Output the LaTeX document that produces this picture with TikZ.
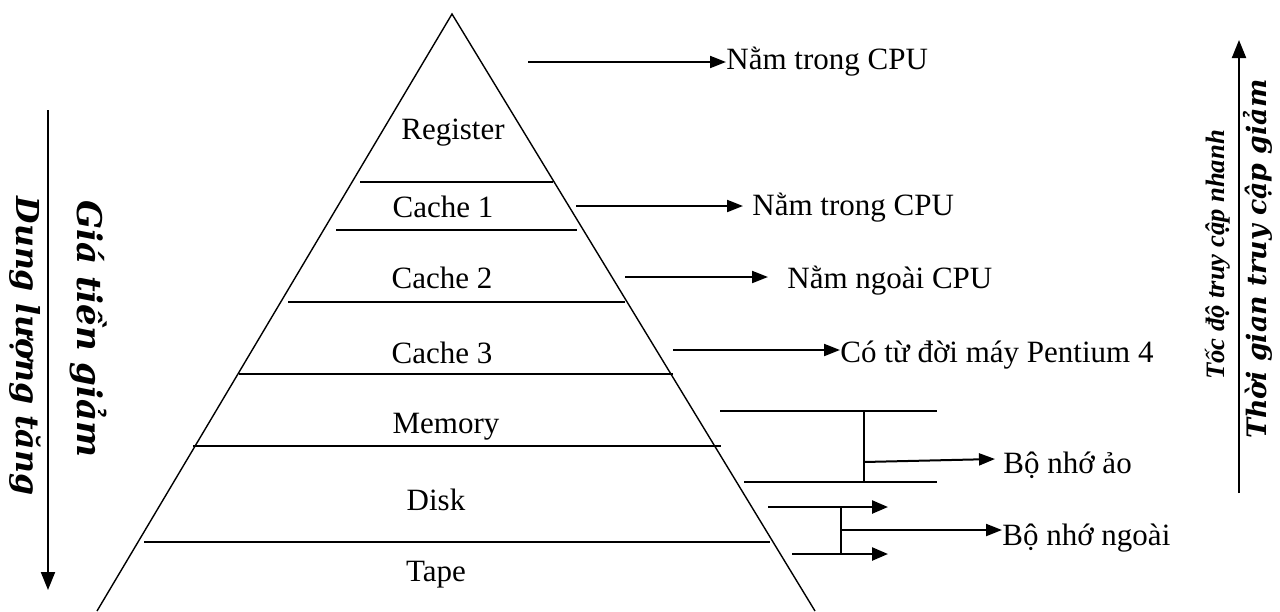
\documentclass[tikz,border=0pt]{standalone}
\usepackage{fontspec}
\setmainfont{Liberation Serif}
\newfontfamily\bkfont{DejaVu Serif}
\usetikzlibrary{arrows.meta}
\begin{document}
\begin{tikzpicture}[x=0.5pt,y=-0.5pt,
  edge/.style={line width=0.7pt},
  arr/.style={line width=1pt,-{Triangle[length=8pt,width=6pt]}},
  thick arr/.style={line width=1.2pt,-{Triangle[length=8pt,width=6.5pt]}},
  lvl/.style={font=\fontsize{15.5}{18}\selectfont, inner sep=0pt},
  lbl/.style={font=\fontsize{15.5}{18}\selectfont, inner sep=0pt, anchor=base west},
  sidebig/.style={font=\bkfont\bfseries\itshape\fontsize{17}{20}\selectfont, inner sep=0pt},
  sidesmall/.style={font=\bkfont\bfseries\itshape\fontsize{13.4}{16}\selectfont, inner sep=0pt},
  sidetimes/.style={font=\bfseries\itshape\fontsize{13.3}{16}\selectfont, inner sep=0pt}]
\useasboundingbox (0,0) rectangle (1280,611);

% pyramid
\coordinate (apex) at (452,14);
\coordinate (bl) at (97,611);
\coordinate (br) at (815,611);
\draw[edge] (bl) -- (apex) -- (br);
\draw[edge] (360,182) -- (553,182);
\draw[edge] (336,230) -- (577,230);
\draw[edge] (288,302) -- (625,302);
\draw[edge] (239,374) -- (673,374);
\draw[edge] (193,446) -- (721,446);
\draw[edge] (144,542) -- (770,542);

% level names
\node[lvl] (reg) at (453,133) {Register};
\node[lvl] (c1) at (443,207) {Cache 1};
\node[lvl] (c2) at (442,278) {Cache 2};
\node[lvl] (c3) at (442,353) {Cache 3};
\node[lvl] (mem) at (446,427) {Memory};
\node[lvl] (disk) at (436,500) {Disk};
\node[lvl] (tape) at (436,575) {Tape};

% right annotations
\node[lbl] (t1) at (726,69.5) {Nằm trong CPU};
\coordinate (a1) at (528,62);
\draw[arr] (a1) -- (a1 -| t1.west);

\node[lbl] (t2) at (752,215) {Nằm trong CPU};
\coordinate (a2) at (576,206);
\draw[arr] (a2) -- (743,206);

\node[lbl] (t3) at (787,288) {Nằm ngoài CPU};
\coordinate (a3) at (625,277);
\draw[arr] (a3) -- (768,277);

\node[lbl] (t4) at (840,362) {Có từ đời máy Pentium 4};
\coordinate (a4) at (673,350);
\draw[arr] (a4) -- (a4 -| t4.west);

% virtual memory bracket
\coordinate (vm1) at (720,411);
\coordinate (vm2) at (937,411);
\coordinate (vm3) at (744,482);
\coordinate (vm4) at (937,482);
\coordinate (vmt) at (864,411);
\coordinate (vmb) at (864,482);
\coordinate (vmm) at (864,462);
\draw[edge] (vm1) -- (vm2);
\draw[edge] (vm3) -- (vm4);
\draw[edge] (vmt) -- (vmb);
\node[lbl] (t5) at (1003,473) {Bộ nhớ ảo};
\coordinate (vme) at (995,459);
\draw[arr] (vmm) -- (vme);

% external memory bracket
\coordinate (d1) at (768,507);
\coordinate (d1e) at (888,507);
\coordinate (d2) at (792,554);
\coordinate (d2e) at (888,554);
\coordinate (dt) at (841,507);
\coordinate (db) at (841,554);
\coordinate (dm) at (841,530);
\draw[thick arr] (d1) -- (d1e);
\draw[thick arr] (d2) -- (d2e);
\draw[line width=1pt] (dt) -- (db);
\node[lbl] (t6) at (1002,545) {Bộ nhớ ngoài};
\draw[arr] (dm) -- (dm -| t6.west);

% left side
\coordinate (la) at (48,110);
\coordinate (lb) at (48,590);
\draw[line width=1pt,-{Triangle[length=9pt,width=7pt]}] (la) -- (lb);
\node[sidebig, rotate=-90] (gia) at (89,329) {Giá tiền giảm};
\node[sidebig, rotate=-90, font=\bkfont\bfseries\itshape\fontsize{15.8}{19}\selectfont] (dung) at (25,346) {Dung lượng tăng};

% right side
\coordinate (ra) at (1239,493);
\coordinate (rb) at (1239,40);
\draw[line width=1pt,-{Triangle[length=9pt,width=7pt]}] (ra) -- (rb);
\node[sidetimes, rotate=90] (toc) at (1218,255) {Tốc độ truy cập nhanh};
\node[sidesmall, rotate=90] (thoi) at (1258,259) {Thời gian truy cập giảm};
\end{tikzpicture}
\end{document}
